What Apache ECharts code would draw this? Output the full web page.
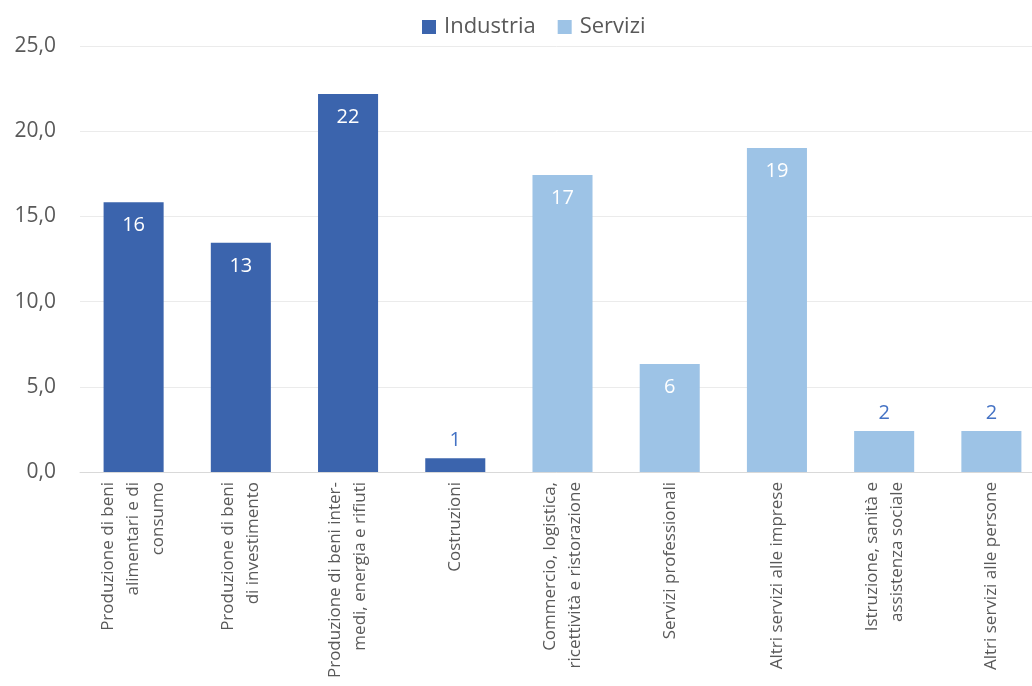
<!DOCTYPE html>
<html>
<head>
<meta charset="utf-8">
<script src="https://cdn.jsdelivr.net/npm/echarts@6/dist/echarts.min.js"></script>
<style>
  html, body { margin: 0; padding: 0; background: #ffffff; }
  #chart { width: 1032px; height: 686px; }
</style>
</head>
<body>
<div id="chart"></div>
<script>
// Sectors (category axis), line breaks as printed under the bars
const categories = [
  'Produzione di beni\nalimentari e di\nconsumo',
  'Produzione di beni\ndi investimento',
  'Produzione di beni inter-\nmedi, energia e rifiuti',
  'Costruzioni',
  'Commercio, logistica,\nricettività e ristorazione',
  'Servizi professionali',
  'Altri servizi alle imprese',
  'Istruzione, sanità e\nassistenza sociale',
  'Altri servizi alle persone'
];

// Shares per sector, split by macro-sector (null where the sector belongs to the other group)
const industria = [15.83, 13.45, 22.18, 0.8, null, null, null, null, null];
const servizi   = [null, null, null, null, 17.43, 6.34, 19.01, 2.41, 2.41];

const yTicks = { min: 0, max: 25, interval: 5 };

const textGrey = '#595959';
const colIndustria = '#3b64ad';
const colServizi = '#9dc3e6';
const labelBlue = '#4472c4';

// Short bars get their value printed above the bar in blue; tall bars get it inside in white
function withLabels(values) {
  return values.map(v => {
    if (v === null) return null;
    if (v < 3) {
      return { value: v, label: { position: 'top', color: labelBlue, distance: 8 } };
    }
    return v;
  });
}

const chart = echarts.init(document.getElementById('chart'), null, { renderer: 'canvas' });

const barLabel = {
  show: true,
  position: 'insideTop',
  distance: 13,
  color: '#ffffff',
  fontFamily: 'Open Sans',
  fontSize: 20,
  formatter: p => Math.round(p.value).toString()
};

chart.setOption({
  animation: false,
  backgroundColor: '#ffffff',
  textStyle: { fontFamily: 'Open Sans' },
  legend: {
    top: 11,
    left: 417,
    icon: 'rect',
    itemWidth: 14,
    itemHeight: 14,
    itemGap: 22,
    textStyle: { color: textGrey, fontSize: 22, fontFamily: 'Open Sans', padding: [0, 0, 0, 3] },
    data: ['Industria', 'Servizi']
  },
  // plot area runs a little past the right edge of the canvas
  grid: { left: 80, width: 965, top: 46, height: 426, containLabel: false, outerBoundsMode: 'none' },
  xAxis: {
    type: 'category',
    data: categories,
    axisTick: { show: false },
    axisLine: { lineStyle: { color: '#d9d9d9', width: 1 } },
    axisLabel: {
      interval: 0,
      rotate: 90,
      margin: 10,
      color: textGrey,
      fontSize: 17,
      lineHeight: 25,
      fontFamily: 'Open Sans'
    }
  },
  yAxis: {
    type: 'value',
    min: yTicks.min,
    max: yTicks.max,
    interval: yTicks.interval,
    axisLine: { show: false },
    axisTick: { show: false },
    splitLine: { lineStyle: { color: '#ebebeb', width: 1 } },
    axisLabel: {
      margin: 24,
      color: textGrey,
      fontSize: 21,
      fontFamily: 'Open Sans',
      formatter: v => v.toFixed(1).replace('.', ',')
    }
  },
  series: [
    {
      name: 'Industria',
      type: 'bar',
      stack: 'tot',
      barWidth: '56%',
      itemStyle: { color: colIndustria },
      label: barLabel,
      data: withLabels(industria)
    },
    {
      name: 'Servizi',
      type: 'bar',
      stack: 'tot',
      barWidth: '56%',
      itemStyle: { color: colServizi },
      label: barLabel,
      data: withLabels(servizi)
    }
  ]
});
</script>
</body>
</html>
